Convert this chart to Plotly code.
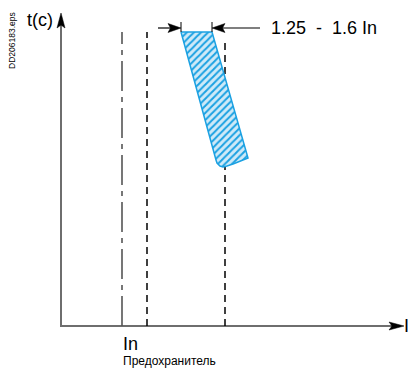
import plotly.graph_objects as go

# diagram units: origin at the axis corner, 1 unit = 1 px
x_axis_end = 343
y_axis_end = 313

in_line_x = 61
in_line_top = 294
dash_lines_x = [86, 164]
dash_lines_top = [294, 286]

# tripping band (hatched)
band_x = [120, 151, 187, 180, 172, 166, 162, 159, 156, 155, 120]
band_y = [294, 294, 168, 165, 162, 160, 159, 160, 163, 166, 294]

# 1.25 - 1.6 In dimension
dim_y = 298
dim_left, dim_right = 120, 151
dim_tail_left, dim_tail_right = 97, 199
dim_tick = [294, 304]

label_range = "1.25  -  1.6 In"
label_t = "t(c)"
label_in = "In"
label_fuse = "Предохранитель"
label_file = "DD206183.eps"

FONT = "Liberation Sans, Arial, sans-serif"


def head(tx, ty, dx, dy, length, hw, notch):
    # arrow head polygon, tip at (tx, ty), pointing along (dx, dy)
    px, py = -dy, dx
    bx, by = tx - dx * length, ty - dy * length
    nx, ny = tx - dx * (length - notch), ty - dy * (length - notch)
    xs = [tx, bx + px * hw, nx, bx - px * hw, tx]
    ys = [ty, by + py * hw, ny, by - py * hw, ty]
    return go.Scatter(x=xs, y=ys, mode="lines", fill="toself", fillcolor="black",
                      line=dict(color="black", width=0.5), hoverinfo="skip")


fig = go.Figure()

# axes
fig.add_trace(go.Scatter(x=[0, 0, x_axis_end - 12], y=[y_axis_end - 12, 0, 0], mode="lines",
                         line=dict(color="#6e6e6e", width=2)))
fig.add_trace(head(0, y_axis_end, 0, 1, 15, 4, 3))
fig.add_trace(head(x_axis_end, 0, 1, 0, 15, 4, 3))

# In line (dash-dot) and dashed lines
fig.add_trace(go.Scatter(x=[in_line_x, in_line_x], y=[0, in_line_top], mode="lines",
                         line=dict(color="#555555", width=1.6, dash="30px,6px,5px,6px")))
for xv, top in zip(dash_lines_x, dash_lines_top):
    fig.add_trace(go.Scatter(x=[xv, xv], y=[0, top], mode="lines",
                             line=dict(color="black", width=1.5, dash="7px,5px")))

# hatched band
fig.add_trace(go.Scatter(x=band_x, y=band_y, mode="lines", fill="toself",
                         fillcolor="#cfeaf8",
                         fillpattern=dict(shape="/", fgcolor="#1ba1e2", bgcolor="#cfeaf8",
                                          size=5, solidity=0.4, fillmode="replace"),
                         line=dict(color="#1ba1e2", width=1.5)))

# dimension arrows
for xv in [dim_left, dim_right]:
    fig.add_trace(go.Scatter(x=[xv, xv], y=dim_tick, mode="lines",
                             line=dict(color="black", width=1)))
fig.add_trace(go.Scatter(x=[dim_tail_left, dim_left - 8], y=[dim_y, dim_y], mode="lines",
                         line=dict(color="black", width=1.2)))
fig.add_trace(go.Scatter(x=[dim_right + 8, dim_tail_right], y=[dim_y, dim_y], mode="lines",
                         line=dict(color="black", width=1.2)))
fig.add_trace(head(dim_left, dim_y, 1, 0, 13, 4.5, 2.5))
fig.add_trace(head(dim_right, dim_y, -1, 0, 13, 4.5, 2.5))

# texts
fig.add_annotation(x=dim_tail_right + 9, y=dim_y, text=label_range, showarrow=False,
                   xanchor="left", yanchor="middle", font=dict(size=18, family=FONT, color="black"))
fig.add_annotation(x=-6, y=306, text=label_t, showarrow=False,
                   xanchor="right", yanchor="middle", font=dict(size=18, family=FONT, color="black"))
fig.add_annotation(x=in_line_x - 1, y=-18, text=label_in, showarrow=False,
                   xanchor="left", yanchor="middle", font=dict(size=18, family=FONT, color="black"))
fig.add_annotation(x=in_line_x - 1, y=-35, text=label_fuse, showarrow=False,
                   xanchor="left", yanchor="middle", font=dict(size=12, family=FONT, color="black"))
fig.add_annotation(x=-49, y=285, text=label_file, showarrow=False, textangle=-90,
                   xanchor="center", yanchor="middle", font=dict(size=8.5, family=FONT, color="black"))
fig.add_annotation(x=350, y=0, text="I", showarrow=False,
                   xanchor="right", yanchor="middle", font=dict(size=18, family=FONT, color="black"))

fig.update_layout(
    width=411, height=369,
    margin=dict(l=0, r=0, t=0, b=0),
    paper_bgcolor="white", plot_bgcolor="white",
    showlegend=False,
    xaxis=dict(range=[-61, 350], visible=False, fixedrange=True),
    yaxis=dict(range=[-43, 326], visible=False, fixedrange=True),
)

fig.write_html("out.html", config={"displayModeBar": False},
               post_script="document.body.style.margin='0';document.body.style.overflow='hidden';")
